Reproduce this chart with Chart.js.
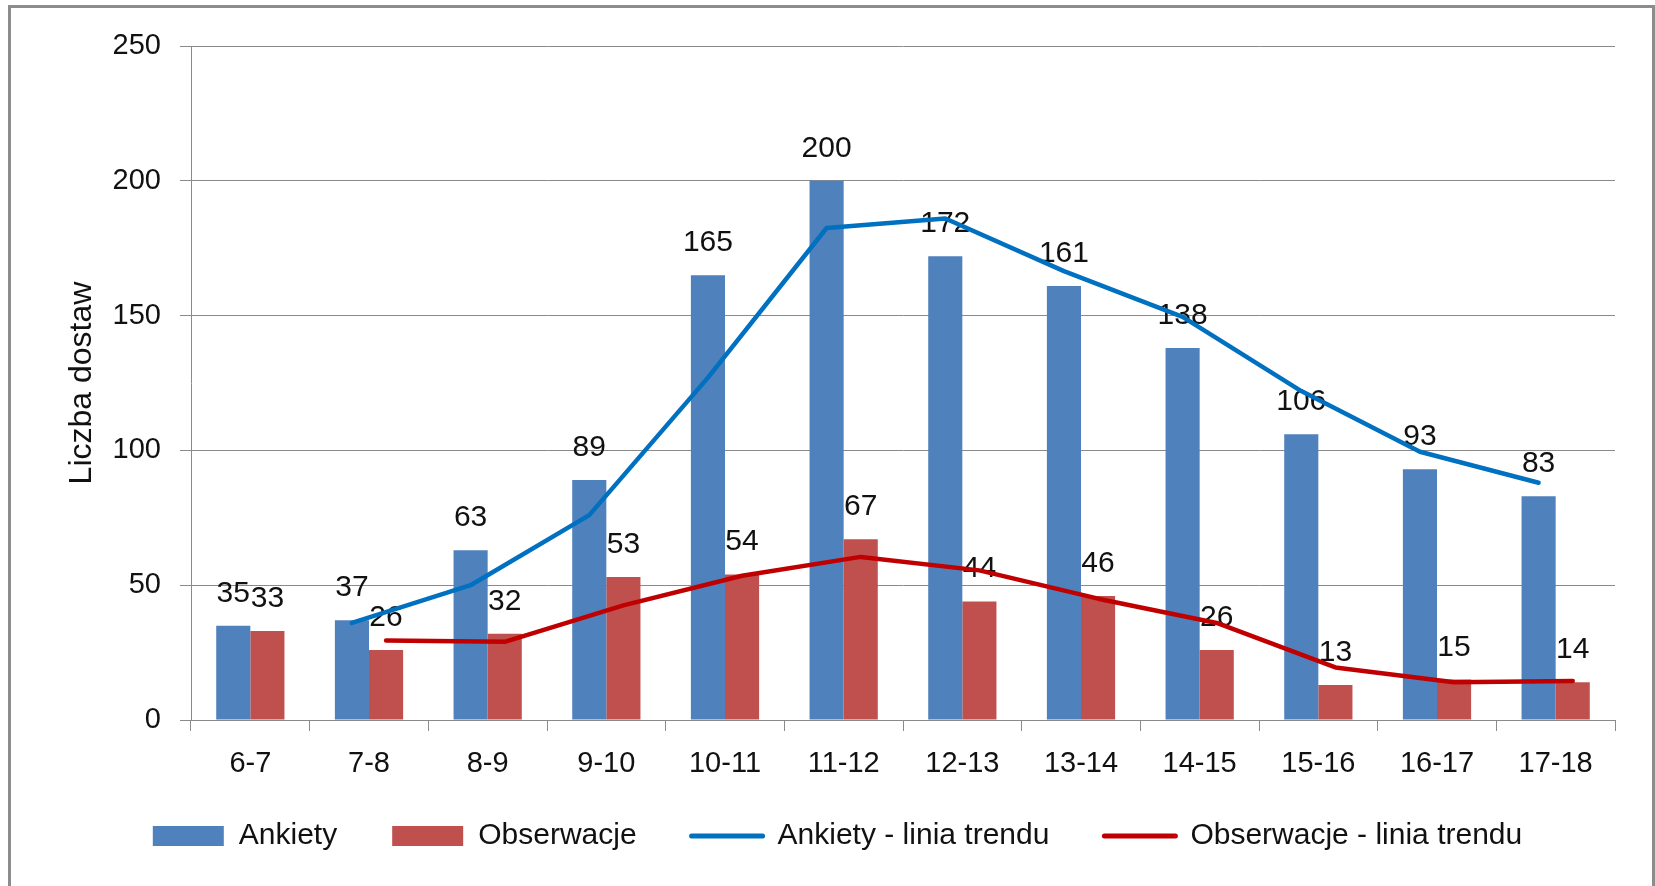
<!DOCTYPE html>
<html>
<head>
<meta charset="utf-8">
<script src="https://cdn.jsdelivr.net/npm/chart.js@4.4.1/dist/chart.umd.min.js"></script>
<style>
  html, body { margin: 0; padding: 0; background: #ffffff; }
  #wrap { position: relative; width: 1655px; height: 886px; }
  canvas { display: block; }
</style>
</head>
<body>
<div id="wrap"><canvas id="c" width="1655" height="886"></canvas></div>
<script>
// ---- data ----
const categories = ['6-7', '7-8', '8-9', '9-10', '10-11', '11-12', '12-13', '13-14', '14-15', '15-16', '16-17', '17-18'];
const ankiety = [35, 37, 63, 89, 165, 200, 172, 161, 138, 106, 93, 83];
const obserwacje = [33, 26, 32, 53, 54, 67, 44, 46, 26, 13, 15, 14];
const ankietyTrend = [null, 36, 50, 76, 127, 182.5, 186, 166.5, 149.5, 122, 99.5, 88];
const obserwacjeTrend = [null, 29.5, 29, 42.5, 53.5, 60.5, 55.5, 45, 36, 19.5, 14, 14.5];
const seriesNames = ['Ankiety', 'Obserwacje', 'Ankiety - linia trendu', 'Obserwacje - linia trendu'];
const yAxisTitle = 'Liczba dostaw';
const yMin = 0, yMax = 250, yStep = 50;

// ---- styling ----
const FONT = '"Liberation Sans", Arial, sans-serif';
const TEXT = '#111111';
const GRID = '#8a8a8a';
const catPct = 0.575;
const barShift = catPct / 4; // centre of each of the two bars inside a category (in category widths)

Chart.defaults.font.family = FONT;
Chart.defaults.color = TEXT;

const framePlugin = {
  id: 'frame',
  beforeDraw(chart) {
    const ctx = chart.ctx;
    ctx.save();
    ctx.fillStyle = '#ffffff';
    ctx.fillRect(0, 0, chart.width, chart.height);
    ctx.strokeStyle = '#8c8c8c';
    ctx.lineWidth = 3;
    ctx.beginPath();
    ctx.moveTo(9.5, chart.height + 5);
    ctx.lineTo(9.5, 6.5);
    ctx.lineTo(1653.5, 6.5);
    ctx.lineTo(1653.5, chart.height + 5);
    ctx.stroke();
    ctx.restore();
  },
  afterLayout(chart) {
    // move the legend row up into the empty band under the axis labels
    const lg = chart.legend;
    if (lg) { lg.top -= 25; lg.bottom -= 25; }
  }
};

// trend lines are drawn over the bar of their own series: shift by a fraction of a category width
const shiftPlugin = {
  id: 'shiftLines',
  beforeDatasetDraw(chart, args) {
    const ds = chart.data.datasets[args.index];
    if (ds.type !== 'line') return;
    const x = chart.scales.x;
    const catW = x.getPixelForValue(1) - x.getPixelForValue(0);
    chart.ctx.save();
    chart.ctx.translate(ds.shift * catW, 0);
  },
  afterDatasetDraw(chart, args) {
    const ds = chart.data.datasets[args.index];
    if (ds.type !== 'line') return;
    chart.ctx.restore();
  }
};

const valueLabels = {
  id: 'valueLabels',
  afterDatasetDraw(chart, args) {
    const ds = chart.data.datasets[args.index];
    if (ds.type !== 'bar') return;
    const ctx = chart.ctx;
    ctx.save();
    ctx.font = '30px ' + FONT;
    ctx.fillStyle = TEXT;
    ctx.textAlign = 'center';
    ctx.textBaseline = 'alphabetic';
    args.meta.data.forEach((el, i) => {
      ctx.fillText(String(ds.data[i]), el.x, el.y - 24);
    });
    ctx.restore();
  }
};

new Chart(document.getElementById('c'), {
  type: 'bar',
  data: {
    labels: categories,
    datasets: [
      { type: 'bar', label: seriesNames[0], data: ankiety, backgroundColor: '#4F81BD', borderWidth: 0,
        categoryPercentage: catPct, barPercentage: 1, order: 2 },
      { type: 'bar', label: seriesNames[1], data: obserwacje, backgroundColor: '#C0504D', borderWidth: 0,
        categoryPercentage: catPct, barPercentage: 1, order: 2 },
      { type: 'line', label: seriesNames[2], data: ankietyTrend, shift: -barShift, borderColor: '#0070C0',
        backgroundColor: '#0070C0', borderWidth: 4.5, pointRadius: 0, tension: 0, fill: false,
        borderCapStyle: 'round', borderJoinStyle: 'round', order: 1 },
      { type: 'line', label: seriesNames[3], data: obserwacjeTrend, shift: barShift, borderColor: '#C00000',
        backgroundColor: '#C00000', borderWidth: 4.5, pointRadius: 0, tension: 0, fill: false,
        borderCapStyle: 'round', borderJoinStyle: 'round', order: 1 }
    ]
  },
  options: {
    responsive: false,
    animation: false,
    events: [],
    layout: { padding: { left: 60, top: 46, right: 40, bottom: 0 } },
    plugins: {
      tooltip: { enabled: false },
      legend: {
        position: 'bottom',
        align: 'center',
        labels: {
          font: { size: 30 },
          color: TEXT,
          usePointStyle: true,
          pointStyleWidth: 71,
          boxWidth: 71,
          boxHeight: 20,
          padding: 55,
          generateLabels(chart) {
            return chart.data.datasets.map((ds, i) => {
              const isLine = ds.type === 'line';
              return {
                text: ds.label,
                fillStyle: isLine ? ds.borderColor : ds.backgroundColor,
                strokeStyle: isLine ? ds.borderColor : ds.backgroundColor,
                lineWidth: isLine ? 5 : 0,
                lineCap: 'round',
                pointStyle: isLine ? 'line' : 'rect',
                fontColor: TEXT,
                hidden: false,
                datasetIndex: i
              };
            });
          }
        }
      }
    },
    scales: {
      x: {
        type: 'category',
        offset: true,
        grid: { offset: true, drawOnChartArea: false, drawTicks: true, tickLength: 11, color: GRID, lineWidth: 1 },
        border: { display: true, color: GRID, width: 1 },
        ticks: { font: { size: 29 }, color: TEXT, padding: 16, maxRotation: 0, autoSkip: false },
        afterFit(scale) { scale.height = 71; }
      },
      y: {
        type: 'linear',
        min: yMin,
        max: yMax,
        grid: { color: GRID, lineWidth: 1, tickLength: 11, drawTicks: true },
        border: { display: true, color: GRID, width: 1 },
        ticks: { stepSize: yStep, font: { size: 29 }, color: TEXT, padding: 19 },
        title: { display: true, text: yAxisTitle, font: { size: 32 }, color: TEXT, padding: { top: 3, bottom: 0 } },
        afterFit(scale) { scale.width = 131; }
      }
    }
  },
  plugins: [framePlugin, shiftPlugin, valueLabels]
});
</script>
</body>
</html>
